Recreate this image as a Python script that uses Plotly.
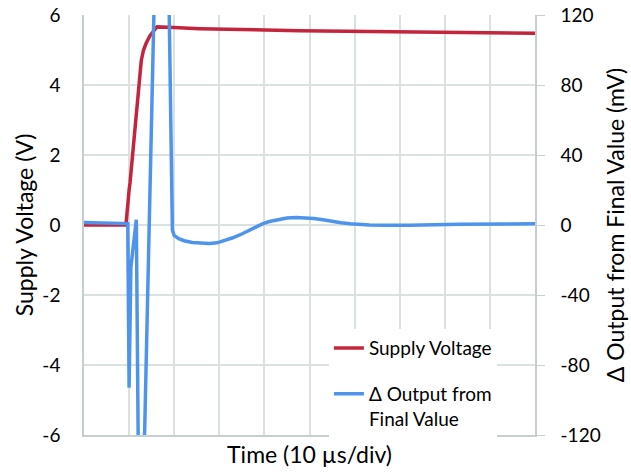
import plotly.graph_objects as go

# time in microseconds (10 us per division)
t_supply = [0, 9.3, 10.0, 10.2, 12.7, 13.2, 13.8, 14.6, 15.6, 16.2, 20, 25.6, 47.8, 70, 100]
v_supply = [0, 0.0, 1.0, 1.2, 4.7, 5.0, 5.2, 5.4, 5.57, 5.66, 5.64, 5.61, 5.55, 5.52, 5.48]

t_out = [0, 9.3, 9.7, 10.0, 10.4, 11.6, 12.4, 17.3, 18.9, 19.6, 20.0, 21.0, 22.2, 24.0,
         26.0, 27.8, 29.5, 31.1, 33.0, 35.1, 36.7, 38.2, 39.7, 41.1, 43.0, 45.0, 47.1,
         49.0, 51.0, 53.0, 55.1, 57.0, 59.0, 61.0, 63.3, 67.0, 72.2, 83.3, 100]
mv_out = [1.5, 1.0, 0.8, -93, -24, 3, -240, 330, 120, -3, -6, -7.8, -9, -10,
          -10.5, -10.6, -10.2, -9, -7.3, -5, -3, -1, 0.8, 2, 3.2, 4, 4.3,
          4.2, 3.7, 3, 2, 1.3, 0.7, 0.3, 0, -0.2, -0.2, 0.4, 0.7]

v_ticks = [-6, -4, -2, 0, 2, 4, 6]
mv_ticks = [-120, -80, -40, 0, 40, 80, 120]

red = "#c4253d"
blue = "#4f94ec"
grid = "#d9e2e0"
axis = "#c5d0ce"
font = "Lato"

fig = go.Figure()
fig.add_trace(go.Scatter(x=t_supply, y=v_supply, mode="lines", name="Supply Voltage",
                         legendgroup="a", line=dict(color=red, width=3.5)))
fig.add_trace(go.Scatter(x=t_out, y=mv_out, mode="lines", name="Δ Output from<br>Final Value",
                         legendgroup="b", line=dict(color=blue, width=3.5), yaxis="y2"))

fig.update_layout(
    width=631, height=472,
    margin=dict(l=84, r=96, t=15, b=37, autoexpand=False),
    plot_bgcolor="white", paper_bgcolor="white",
    font=dict(family=font, size=19, color="#000000"),
    showlegend=True,
    legend=dict(x=0.543, y=0.252, xanchor="left", yanchor="top", valign="top",
                bgcolor="white", font=dict(size=19), tracegroupgap=18),
)

fig.update_xaxes(range=[0, 100], dtick=10, showticklabels=False, showgrid=True,
                 gridcolor=grid, gridwidth=1.5, showline=True, linecolor=axis, linewidth=1.5,
                 zeroline=False, automargin=False,
                 title=dict(text="Time (10 µs/div)", standoff=11))

fig.update_yaxes(range=[-6, 6], tickvals=v_ticks, ticktext=[str(v) for v in v_ticks],
                 showgrid=True, gridcolor=grid, gridwidth=1.5, ticklabelstandoff=18,
                 ticklabeloverflow="allow",
                 showline=True, linecolor=axis, linewidth=1.5, zeroline=False,
                 automargin=False, title=dict(text="Supply Voltage (V)", standoff=2))

fig.update_layout(yaxis2=dict(overlaying="y", side="right", range=[-120, 120],
                              tickvals=mv_ticks, ticktext=[str(v) for v in mv_ticks],
                              showgrid=False, zeroline=False, showline=True, linecolor=axis,
                              linewidth=1.5, ticks="outside", ticklen=8, tickcolor=axis,
                              ticklabelstandoff=12, ticklabeloverflow="allow", automargin=False,
                              title=dict(text="Δ Output from Final Value (mV)", standoff=8)))

# drop the default page margin so the figure fills the window exactly
fig.write_html("out.html", config={"displayModeBar": False},
               post_script="document.body.style.margin='0';")
